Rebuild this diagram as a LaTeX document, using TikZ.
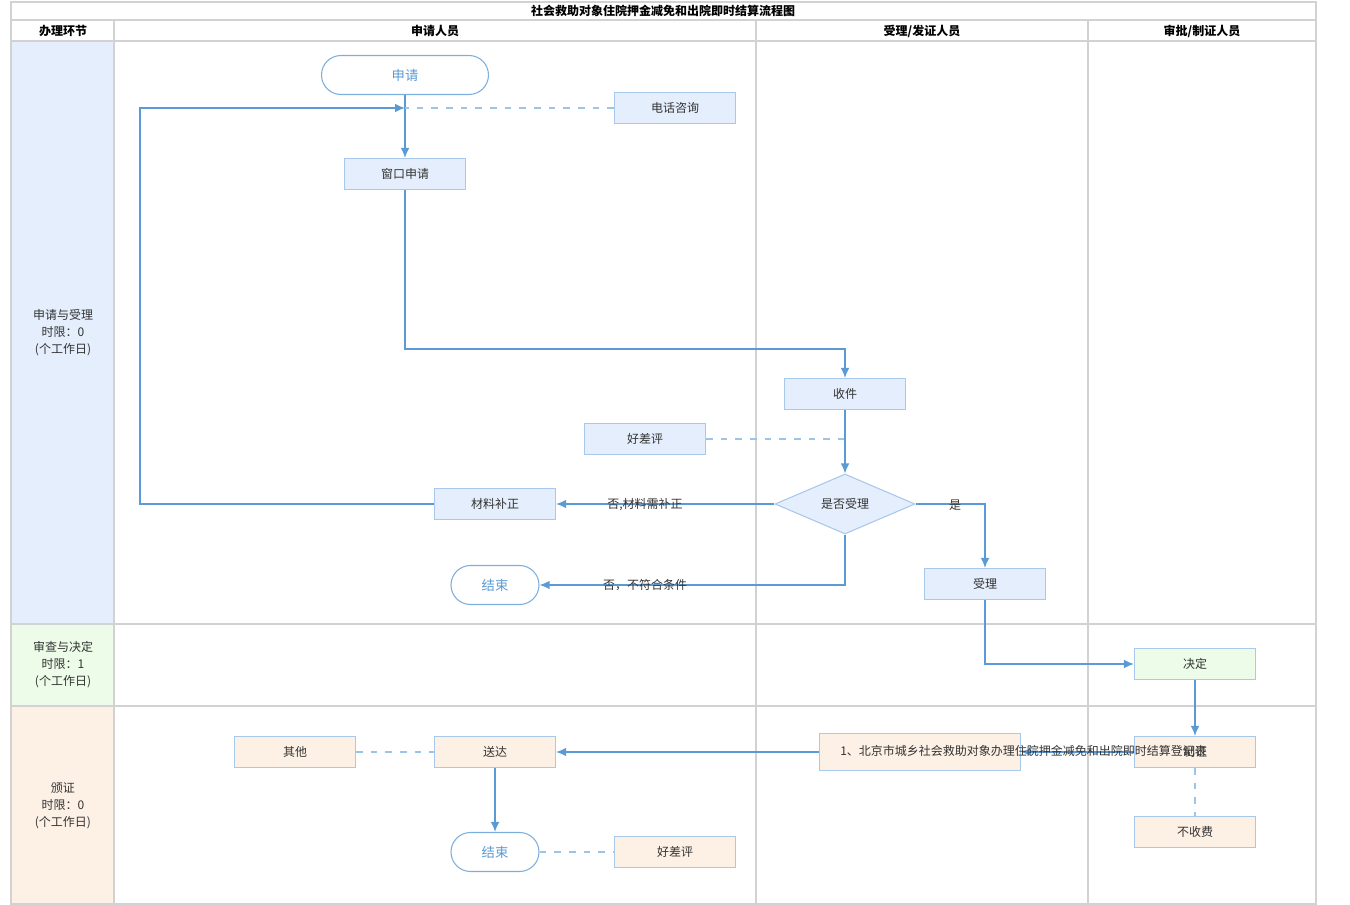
\documentclass[tikz,border=0pt]{standalone}
\usepackage{fontspec}
\setmainfont{Noto Sans CJK SC}
\usetikzlibrary{arrows.meta,shapes.geometric,calc}
\definecolor{ln}{HTML}{5B9BD5}
\definecolor{dl}{HTML}{9DC3E6}
\definecolor{bd}{HTML}{A8C8EC}
\definecolor{grid}{HTML}{D2D2D2}
\definecolor{laneA}{HTML}{E4EEFC}
\definecolor{laneB}{HTML}{ECFCE8}
\definecolor{laneC}{HTML}{FDF1E6}
\definecolor{txt}{HTML}{333333}
\tikzset{
  gridline/.style={draw=grid, line width=1.3pt},
  boxA/.style={draw=bd, fill=laneA, line width=0.8pt, minimum width=90.75pt, minimum height=23.25pt, inner sep=0pt, text=txt},
  boxB/.style={boxA, fill=laneB},
  boxC/.style={boxA, fill=laneC},
  pill/.style={draw=ln!80, fill=white, line width=0.8pt, rounded corners=14.6pt, minimum height=29.25pt, inner sep=0pt, text=ln, font=\fontsize{10}{12}\selectfont},
  arr/.style={draw=ln, line width=1.1pt, -{Latex[length=7.5pt,width=6.5pt]}},
  dsh/.style={draw=dl, line width=1.1pt, dash pattern=on 5pt off 6pt},
  lbl/.style={text=txt, inner sep=0pt},
  hdr/.style={font=\fontsize{9}{11}\selectfont\bfseries, text=black},
  lanetxt/.style={align=center, text=txt, font=\fontsize{9}{12.75}\selectfont}
}
\begin{document}
\begin{tikzpicture}[x=0.75pt,y=-0.75pt, font=\fontsize{9}{11}\selectfont]
\useasboundingbox (0,0) rectangle (1350,905);
% lane fills
\fill[laneA] (11,41) rectangle (114,624);
\fill[laneB] (11,624) rectangle (114,706);
\fill[laneC] (11,706) rectangle (114,904);
% grid
\draw[gridline] (11,2) rectangle (1316,904);
\draw[gridline] (11,20) -- (1316,20);
\draw[gridline] (11,41) -- (1316,41);
\draw[gridline] (11,624) -- (1316,624);
\draw[gridline] (11,706) -- (1316,706);
\draw[gridline] (114,20) -- (114,904);
\draw[gridline] (756,20) -- (756,904);
\draw[gridline] (1088,20) -- (1088,904);
% headers
\node[hdr] (title) at (663,11) {社会救助对象住院押金减免和出院即时结算流程图};
\node[hdr] (h0) at (63,31) {办理环节};
\node[hdr] (h1) at (435,31) {申请人员};
\node[hdr] (h2) at (922,31) {受理/发证人员};
\node[hdr] (h3) at (1202,31) {审批/制证人员};
\node[lanetxt] (l1) at (63,333) {申请与受理\\时限：0\\(个工作日)};
\node[lanetxt] (l2) at (63,665) {审查与决定\\时限：1\\(个工作日)};
\node[lanetxt] (l3) at (63,806) {颁证\\时限：0\\(个工作日)};
% nodes lane 1
\node[pill, minimum width=125.25pt] (shenqing) at (405,75) {申请};
\node[boxA] (dianhua) at (675,108) {电话咨询};
\node[boxA] (chuangkou) at (405,174) {窗口申请};
\node[boxA] (shoujian) at (845,394) {收件};
\node[boxA] (hcpA) at (645,439) {好差评};
\node[diamond, draw=bd, fill=laneA, line width=0.8pt, minimum width=105pt, minimum height=45pt, aspect=2.33, inner sep=0pt, text=txt] (sfsl) at (845,504) {是否受理};
\node[boxA] (buzheng) at (495,504) {材料补正};
\node[pill, minimum width=66pt] (endA) at (495,585) {结束};
\node[boxA] (shouli) at (985,584) {受理};
% lane 2
\node[boxB] (jueding) at (1195,664) {决定};
% lane 3
\node[boxC, minimum width=150.75pt, minimum height=27.75pt] (djb) at (920,752) {};
\node[boxC] (zhizheng) at (1195,752) {制证};
\node[boxC] (bushou) at (1195,832) {不收费};
\node[boxC] (songda) at (495,752) {送达};
\node[boxC] (qita) at (295,752) {其他};
\node[pill, minimum width=66pt] (endB) at (495,852) {结束};
\node[boxC] (hcpB) at (675,852) {好差评};
% connectors
\coordinate (j1) at (405,108);
\coordinate (j2) at (845,439);
\coordinate (lp1) at (140,504);
\coordinate (lp2) at (140,108);
\draw[arr] (shenqing.south) -- (chuangkou.north);
\draw[dsh] (dianhua.west) -- (j1);
\draw[arr] (buzheng.west) -- (lp1) -- (lp2) -- (j1);
\draw[arr] (chuangkou.south) -- ++(0,159) -| (shoujian.north);
\draw[dsh] (hcpA.east) -- (j2);
\draw[arr] (shoujian.south) -- (sfsl.north);
\draw[arr] (sfsl.west) -- (buzheng.east);
\node[lbl] (lbA) at (645,505) {否,材料需补正};
\draw[arr] (sfsl.south) |- (endA.east);
\node[lbl] (lbB) at (645,585) {否，不符合条件};
\draw[arr] (sfsl.east) -| (shouli.north);
\node[lbl] (lbC) at (955,505) {是};
\draw[arr] (shouli.south) |- (jueding.west);
\draw[arr] (jueding.south) -- (zhizheng.north);
\draw[dsh] (zhizheng.south) -- (bushou.north);
\draw[arr] (zhizheng.west) -- (djb.east);
\draw[arr] (djb.west) -- (songda.east);
\draw[dsh] (qita.east) -- (songda.west);
\draw[arr] (songda.south) -- (endB.north);
\draw[dsh] (endB.east) -- (hcpB.west);
\node[lbl, anchor=west] (djbtxt) at (840,751) {1、北京市城乡社会救助对象办理住院押金减免和出院即时结算登记表};
\end{tikzpicture}
\end{document}
